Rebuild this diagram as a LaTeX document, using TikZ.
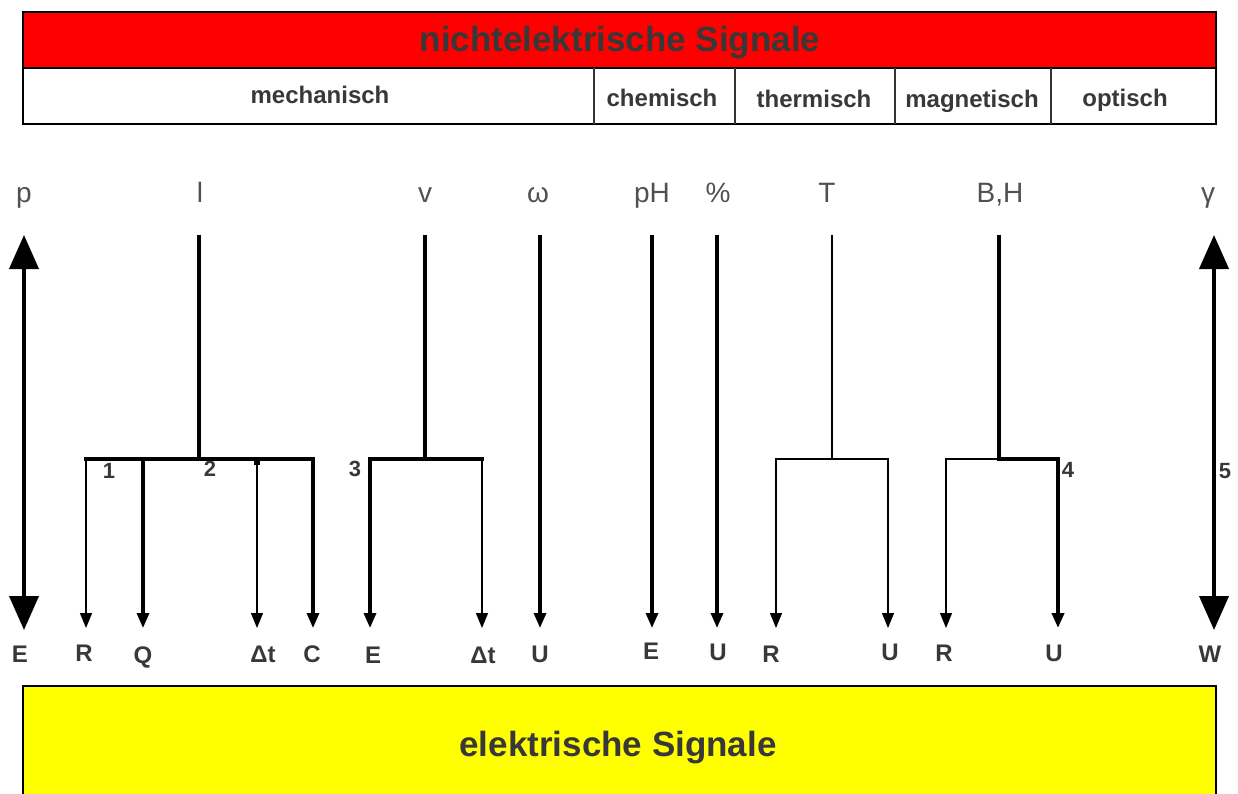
\documentclass[tikz,border=0pt]{standalone}
\usepackage{fontspec}
\setmainfont{Liberation Sans}
\usetikzlibrary{arrows.meta}
\definecolor{txt}{HTML}{383838}
\definecolor{lbl}{HTML}{505050}
\definecolor{redbox}{HTML}{FF0000}
\definecolor{yelbox}{HTML}{FFFF00}
\begin{document}
\begin{tikzpicture}[x=1pt,y=-1pt,
 thk/.style={line width=3.2pt},
 thn/.style={line width=1.4pt},
 hair/.style={line width=1.1pt},
 sa/.style={-{Triangle[width=12pt,length=15pt]}},
 ba/.style={{Triangle[width=29pt,length=34pt]}-{Triangle[width=29pt,length=34pt]}, line width=4pt},
 toplbl/.style={anchor=base, font=\fontsize{28}{30}\selectfont, text=lbl, inner sep=0pt},
 botlbl/.style={anchor=base, font=\bfseries\fontsize{24}{26}\selectfont, text=txt, inner sep=0pt},
 catlbl/.style={anchor=base, font=\bfseries\fontsize{24}{26}\selectfont, text=txt, inner sep=0pt},
 numlbl/.style={anchor=base, font=\bfseries\fontsize{22}{24}\selectfont, text=txt, inner sep=0pt},
 titlelbl/.style={anchor=base, font=\bfseries\fontsize{35}{38}\selectfont, text=txt, inner sep=0pt},
 frame/.style={line width=2.5pt, draw=black},
 divider/.style={line width=1.2pt, draw=black!80},
]
\useasboundingbox (0,0) rectangle (1238,794);

% header boxes
\path[frame, fill=redbox] (23,12) rectangle (1216,68);
\node[titlelbl] (title) at (620,52) {nichtelektrische Signale};
\path[frame, fill=white] (23,68) rectangle (1216,124);
\foreach \xx in {594,735,895,1051} \draw[divider] (\xx,68) -- (\xx,124);
\node[catlbl] (cmech) at (320,104) {mechanisch};
\node[catlbl] (cchem) at (662,107) {chemisch};
\node[catlbl] (ctherm) at (814,108) {thermisch};
\node[catlbl] (cmag) at (972,108) {magnetisch};
\node[catlbl] (copt) at (1125,107) {optisch};

% bottom box
\path[frame, fill=yelbox] (23,686) rectangle (1216,820);
\node[titlelbl] (etitle) at (618,756) {elektrische Signale};

% top labels
\node[toplbl] (tp) at (24,203) {p};
\node[toplbl] (tl) at (200,203) {l};
\node[toplbl] (tv) at (425,203) {v};
\node[toplbl] (tw) at (538,203) {ω};
\node[toplbl] (tpH) at (652,203) {pH};
\node[toplbl] (tpc) at (718,203) {\%};
\node[toplbl] (tT) at (827,203) {T};
\node[toplbl] (tBH) at (1000,203) {B,H};
\node[toplbl] (tg) at (1208,203) {γ};

% bottom labels
\node[botlbl] (bE1) at (20,662) {E};
\node[botlbl] (bR1) at (84,661) {R};
\node[botlbl] (bQ) at (143,663) {Q};
\node[botlbl] (bdt1) at (263,662) {Δt};
\node[botlbl] (bC) at (312,662) {C};
\node[botlbl] (bE2) at (373,663) {E};
\node[botlbl] (bdt2) at (483,663) {Δt};
\node[botlbl] (bU1) at (540,662) {U};
\node[botlbl] (bE3) at (651,659) {E};
\node[botlbl] (bU2) at (718,660) {U};
\node[botlbl] (bR2) at (771,662) {R};
\node[botlbl] (bU3) at (890,660) {U};
\node[botlbl] (bR3) at (944,661) {R};
\node[botlbl] (bU4) at (1054,661) {U};
\node[botlbl] (bW) at (1210,662) {W};

% numbers
\node[numlbl] (n1) at (109,478) {1};
\node[numlbl] (n2) at (210,476) {2};
\node[numlbl] (n3) at (355,476) {3};
\node[numlbl] (n4) at (1068,477) {4};
\node[numlbl] (n5) at (1225,478) {5};

% coordinates
\foreach \nm/\xx in {p/24, l/199, v/425, w/540, pH/652, pc/717, T/832, BH/999, g/1214}
  \coordinate (s\nm) at (\xx,235);
\coordinate (jl) at (199,459);
\coordinate (jv) at (425,459);
\coordinate (jT) at (832,459);
\coordinate (jBH) at (999,459);
\foreach \nm/\xx in {R1/86, Q/143, dt1/257, C/313, E2/370, dt2/482, R2/776, U3/888, R3/946, U4/1058}
  {\coordinate (k\nm) at (\xx,459); \coordinate (e\nm) at (\xx,628);}

% p and gamma
\draw[ba] (sp) -- (24,630) coordinate (ep);
\draw[ba] (sg) -- (1214,630) coordinate (eg);

% l group
\draw[thk] (sl) -- (jl);
\draw[thk, line cap=rect] (kR1) -- (kC);
\draw[thn, sa] (kR1) -- (eR1);
\draw[thk, sa] (kQ) -- (eQ);
\draw[thn, sa] (kdt1) -- (edt1);
\fill (254,459) rectangle (260,465);
\draw[thk, sa] (kC) -- (eC);

% v group
\draw[thk] (sv) -- (jv);
\draw[thk, line cap=rect] (kE2) -- (kdt2);
\draw[thk, sa] (kE2) -- (eE2);
\draw[thn, sa] (kdt2) -- (edt2);

% single arrows
\draw[thk, sa] (sw) -- (540,628);
\draw[thk, sa] (spH) -- (652,628);
\draw[thk, sa] (spc) -- (717,628);

% T group
\draw[hair] (sT) -- (jT);
\draw[hair, line cap=rect] (kR2) -- (kU3);
\draw[hair, sa] (kR2) -- (eR2);
\draw[hair, sa] (kU3) -- (eU3);

% B,H group
\draw[thk] (sBH) -- (jBH);
\draw[hair, line cap=rect] (kR3) -- (jBH);
\draw[thk, line cap=rect] (jBH) -- (kU4);
\draw[hair, sa] (kR3) -- (eR3);
\draw[line width=4pt, sa] (kU4) -- (eU4);
\end{tikzpicture}
\end{document}
